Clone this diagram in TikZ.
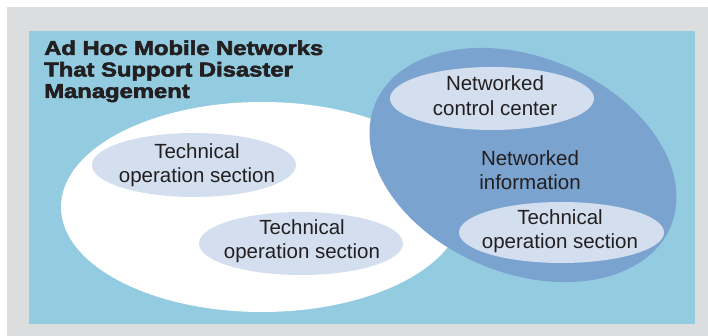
\documentclass[tikz,border=0pt]{standalone}
\usepackage{fontspec}
\setmainfont{Liberation Sans}
\newfontfamily\titlefont{Liberation Sans Bold}[FakeBold=2.5]
\usetikzlibrary{shapes.geometric}
\definecolor{bggrey}{HTML}{DCDDDE}
\definecolor{skyblue}{HTML}{93CCE1}
\definecolor{netblue}{HTML}{7BA3CF}
\definecolor{lav}{HTML}{D3DFEF}
\definecolor{ink}{HTML}{231F20}
\begin{document}
\begin{tikzpicture}[x=1pt,y=1pt,
  secshape/.style={ellipse, fill=lav, inner sep=0pt, minimum width=204pt, minimum height=63pt},
  sectext/.style={align=center, text=ink, inner sep=0pt, font=\fontsize{20.5}{24.5}\selectfont},
  titletext/.style={align=left, text=ink, inner sep=0pt, xscale=1.19, font=\titlefont\fontsize{20}{21.5}\selectfont}
]
\useasboundingbox (0,0) rectangle (708,336);
\fill[white] (0,0) rectangle (708,336);
\fill[bggrey] (7,0) rectangle (708,329);
\fill[skyblue] (29,12) rectangle (695,305);
\fill[white] (262,129) ellipse [x radius=201pt, y radius=105pt];
\fill[netblue, rotate around={-22.5:(523,171)}] (523,171) ellipse [x radius=160pt, y radius=108pt];

\node[titletext, anchor=base west] (title) at (44,238) {Ad Hoc Mobile Networks\\That Support Disaster\\Management};

\node[secshape] (ctrl) at (492,237.5) {};
\node[sectext] (ctrltxt) at (495,240.5) {Networked\\control center};

\node[sectext] (info) at (530,166) {Networked\\information};

\node[secshape, minimum height=61pt, minimum width=205pt] (tr) at (561.5,103.5) {};
\node[sectext] (trtxt) at (560,105) {Technical\\operation section};

\node[secshape, minimum height=64pt] (tl) at (194,171) {};
\node[sectext] (tltxt) at (197,171) {Technical\\operation section};

\node[secshape] (tm) at (301,92.5) {};
\node[sectext] (tmtxt) at (302,95) {Technical\\operation section};
\end{tikzpicture}
\end{document}
